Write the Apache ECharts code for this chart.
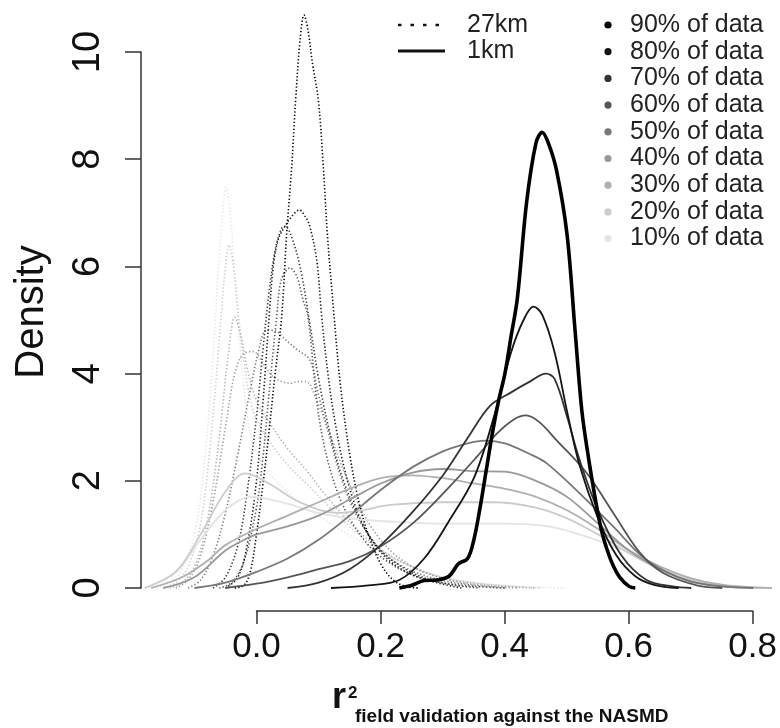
<!DOCTYPE html>
<html><head><meta charset="utf-8">
<script src="https://cdn.jsdelivr.net/npm/echarts@6/dist/echarts.min.js"></script>
<style>html,body{margin:0;padding:0;background:#fff}#c{width:780px;height:728px}</style>
</head><body><div id="c"></div>
<script>
// ---------- data ----------
const percentLabels = ['90% of data','80% of data','70% of data','60% of data','50% of data','40% of data','30% of data','20% of data','10% of data'];
const resolutionLabels = ['27km', '1km'];
const xTickInterval = 0.2;
const yTickInterval = 2;

// 27 km (dotted) density curves: [r2, density]
const km27_90 = [[-0.035,0],[-0.02,0.05],[-0.01,0.3],[0.0,1.0],[0.01,1.9],[0.02,2.9],[0.03,4.0],[0.0405,5.06],[0.0486,6.62],[0.0567,7.86],[0.063,9.1],[0.07,10.2],[0.0765,10.69],[0.083,10.4],[0.09,9.8],[0.0996,9.1],[0.1076,7.86],[0.114,6.62],[0.125,5.06],[0.135,3.8],[0.15,2.5],[0.165,1.6],[0.18,1.0],[0.2,0.45],[0.22,0.15],[0.24,0.03],[0.26,0]];
const km27_80 = [[-0.05,0],[-0.03,0.2],[-0.015,0.8],[0.0,2.0],[0.01,3.4],[0.02,5.0],[0.027,6.0],[0.035,6.5],[0.046,6.75],[0.058,6.95],[0.069,7.05],[0.08,6.9],[0.086,6.74],[0.097,6.12],[0.105,5.06],[0.115,4.0],[0.125,3.2],[0.14,2.3],[0.16,1.5],[0.18,1.0],[0.21,0.55],[0.25,0.25],[0.29,0.1],[0.33,0]];
const km27_70 = [[-0.07,0],[-0.05,0.2],[-0.03,0.8],[-0.015,1.8],[0.0,3.2],[0.01,4.4],[0.02,5.5],[0.03,6.3],[0.04,6.7],[0.046,6.75],[0.055,6.6],[0.07,6.0],[0.085,5.0],[0.1,3.9],[0.12,2.8],[0.14,2.0],[0.17,1.2],[0.2,0.7],[0.24,0.35],[0.28,0.15],[0.32,0.05],[0.36,0]];
const km27_60 = [[-0.06,0],[-0.04,0.1],[-0.02,0.5],[0.0,1.5],[0.01,2.4],[0.02,3.6],[0.0325,5.06],[0.04,5.75],[0.054,5.97],[0.065,5.81],[0.075,5.37],[0.083,5.06],[0.097,3.5],[0.11,2.6],[0.13,1.8],[0.15,1.3],[0.18,0.8],[0.21,0.5],[0.25,0.25],[0.3,0.1],[0.35,0.03],[0.4,0]];
const km27_50 = [[-0.11,0],[-0.09,0.15],[-0.07,0.6],[-0.05,1.4],[-0.03,2.5],[-0.01,3.7],[0.005,4.5],[0.016,4.81],[0.03,4.8],[0.045,4.65],[0.065,4.45],[0.086,4.25],[0.1,3.6],[0.118,2.8],[0.135,2.1],[0.155,1.5],[0.18,1.0],[0.21,0.6],[0.25,0.32],[0.3,0.14],[0.35,0.05],[0.4,0]];
const km27_40 = [[-0.13,0],[-0.11,0.15],[-0.09,0.6],[-0.07,1.6],[-0.05,3.0],[-0.035,4.0],[-0.02,4.38],[-0.005,4.41],[0.01,4.2],[0.027,3.94],[0.054,3.82],[0.067,3.85],[0.08,3.85],[0.097,3.5],[0.118,2.88],[0.14,2.2],[0.165,1.55],[0.19,1.05],[0.22,0.65],[0.26,0.35],[0.31,0.15],[0.36,0.05],[0.42,0]];
const km27_30 = [[-0.14,0],[-0.12,0.1],[-0.1,0.4],[-0.08,1.2],[-0.06,2.8],[-0.045,4.4],[-0.035,5.05],[-0.025,4.7],[-0.015,4.1],[0.0,3.5],[0.02,3.1],[0.05,2.6],[0.08,2.2],[0.11,1.75],[0.14,1.35],[0.17,1.0],[0.2,0.72],[0.24,0.45],[0.28,0.25],[0.33,0.12],[0.39,0.04],[0.45,0]];
const km27_20 = [[-0.15,0],[-0.13,0.1],[-0.11,0.4],[-0.09,1.2],[-0.075,2.6],[-0.06,4.6],[-0.05,6.0],[-0.044,6.4],[-0.037,6.0],[-0.03,5.2],[-0.02,4.2],[-0.005,3.3],[0.02,2.75],[0.05,2.3],[0.08,1.95],[0.11,1.6],[0.14,1.25],[0.17,0.95],[0.2,0.7],[0.24,0.45],[0.28,0.27],[0.33,0.13],[0.39,0.05],[0.46,0]];
const km27_10 = [[-0.16,0],[-0.14,0.1],[-0.12,0.35],[-0.1,1.0],[-0.085,2.2],[-0.072,4.0],[-0.06,6.2],[-0.053,7.2],[-0.049,7.47],[-0.044,7.2],[-0.037,6.2],[-0.03,5.0],[-0.02,3.7],[-0.008,2.8],[0.01,2.3],[0.04,1.9],[0.07,1.6],[0.1,1.35],[0.14,1.05],[0.18,0.8],[0.22,0.55],[0.26,0.35],[0.3,0.2],[0.36,0.09],[0.42,0.03],[0.5,0]];

// 1 km (solid) density curves
const km1_90 = [[0.23,0],[0.25,0.05],[0.27,0.14],[0.29,0.15],[0.31,0.22],[0.325,0.45],[0.34,0.55],[0.35,0.9],[0.36,1.5],[0.37,2.2],[0.38,2.9],[0.39,3.5],[0.40,4.0],[0.41,4.7],[0.42,5.4],[0.435,7.2],[0.45,8.3],[0.46,8.5],[0.47,8.3],[0.483,7.8],[0.50,6.6],[0.513,4.8],[0.524,3.3],[0.535,2.4],[0.545,1.7],[0.555,1.1],[0.565,0.7],[0.575,0.4],[0.585,0.2],[0.60,0.03],[0.61,0]];
const km1_80 = [[0.12,0],[0.18,0.05],[0.23,0.15],[0.27,0.55],[0.31,1.25],[0.35,2.05],[0.38,3.1],[0.41,4.4],[0.43,5.0],[0.446,5.25],[0.46,5.1],[0.48,4.4],[0.50,3.3],[0.52,2.3],[0.55,1.3],[0.58,0.6],[0.61,0.22],[0.64,0.06],[0.68,0]];
const km1_70 = [[0.05,0],[0.1,0.1],[0.15,0.35],[0.2,0.8],[0.25,1.4],[0.3,2.1],[0.34,2.8],[0.376,3.4],[0.41,3.65],[0.44,3.85],[0.466,4.0],[0.48,3.9],[0.5,3.2],[0.52,2.4],[0.55,1.45],[0.588,0.6],[0.628,0.15],[0.67,0.03],[0.7,0]];
const km1_60 = [[-0.05,0],[0.0,0.08],[0.05,0.2],[0.1,0.35],[0.15,0.5],[0.199,0.77],[0.252,1.21],[0.306,1.83],[0.355,2.45],[0.387,2.88],[0.415,3.15],[0.434,3.22],[0.455,3.1],[0.483,2.76],[0.532,2.14],[0.575,1.39],[0.618,0.65],[0.655,0.28],[0.709,0.05],[0.75,0]];
const km1_50 = [[-0.1,0],[-0.05,0.1],[0.0,0.3],[0.05,0.55],[0.1,0.9],[0.15,1.35],[0.2,1.83],[0.252,2.26],[0.3,2.55],[0.34,2.7],[0.368,2.75],[0.4,2.7],[0.44,2.5],[0.467,2.33],[0.52,1.77],[0.575,1.14],[0.62,0.6],[0.66,0.3],[0.7,0.12],[0.75,0.03],[0.8,0]];
const km1_40 = [[-0.15,0],[-0.1,0.2],[-0.05,0.7],[-0.02,0.9],[0.0,1.0],[0.05,1.15],[0.1,1.35],[0.15,1.65],[0.2,1.95],[0.25,2.15],[0.3,2.22],[0.35,2.18],[0.4,2.17],[0.45,2.0],[0.5,1.7],[0.55,1.2],[0.6,0.7],[0.65,0.35],[0.7,0.12],[0.75,0.03],[0.8,0]];
const km1_30 = [[-0.17,0],[-0.12,0.2],[-0.08,0.5],[-0.05,0.8],[0.0,1.1],[0.05,1.35],[0.1,1.6],[0.15,1.85],[0.2,2.05],[0.25,2.1],[0.3,2.05],[0.35,1.95],[0.4,1.85],[0.45,1.7],[0.5,1.45],[0.55,1.1],[0.6,0.7],[0.65,0.4],[0.7,0.18],[0.75,0.06],[0.8,0.01],[0.83,0]];
const km1_20 = [[-0.18,0],[-0.13,0.3],[-0.09,1.0],[-0.05,1.8],[-0.018,2.14],[0.02,1.95],[0.07,1.6],[0.129,1.4],[0.17,1.45],[0.215,1.55],[0.3,1.6],[0.38,1.6],[0.45,1.5],[0.5,1.3],[0.55,1.0],[0.6,0.65],[0.65,0.35],[0.7,0.15],[0.76,0.04],[0.82,0]];
const km1_10 = [[-0.18,0],[-0.13,0.3],[-0.09,0.9],[-0.05,1.45],[-0.008,1.7],[0.04,1.6],[0.1,1.4],[0.15,1.3],[0.2,1.25],[0.3,1.2],[0.4,1.2],[0.47,1.15],[0.52,1.0],[0.57,0.8],[0.62,0.55],[0.67,0.3],[0.72,0.12],[0.78,0.03],[0.83,0]];

const km27Curves = [km27_90, km27_80, km27_70, km27_60, km27_50, km27_40, km27_30, km27_20, km27_10];
const km1Curves  = [km1_90, km1_80, km1_70, km1_60, km1_50, km1_40, km1_30, km1_20, km1_10];

// ---------- styles / layout ----------
const grays = ['#000000','#141414','#333333','#555555','#777777','#999999','#b0b0b0','#cccccc','#e4e4e4'];
const FONT = 'Liberation Sans, Arial, Helvetica, sans-serif';
const X0PX = 256.5, XSCALE = 621;   // pixel of r2=0, pixels per unit
const Y0PX = 588, YSCALE = 53.6;    // pixel of density=0, pixels per unit
const plotLeft = 141, plotRight = 778, plotTop = 0, plotBottom = 611;
const xMin = (plotLeft - X0PX) / XSCALE, xMax = (plotRight - X0PX) / XSCALE;
const yMax = (Y0PX - plotTop) / YSCALE, yMin = (Y0PX - plotBottom) / YSCALE;
const xAxisLeft = X0PX, xAxisRight = X0PX + 0.8 * XSCALE;
const yAxisTop = Y0PX - 10 * YSCALE, yAxisBottom = Y0PX;

const series = [];
for (let i = percentLabels.length - 1; i >= 0; i--) {
  series.push({
    type: 'line', name: percentLabels[i] + ' 27km', data: km27Curves[i],
    xAxisIndex: 0, yAxisIndex: 0, symbol: 'none', smooth: 0.35, silent: true,
    lineStyle: { color: grays[i], width: 1.6, type: [1.3, 2.2] }, z: 2
  });
}
for (let i = percentLabels.length - 1; i >= 0; i--) {
  series.push({
    type: 'line', name: percentLabels[i] + ' 1km', data: km1Curves[i],
    xAxisIndex: 0, yAxisIndex: 0, symbol: 'none', smooth: 0.35, silent: true,
    lineStyle: { color: grays[i], width: i === 0 ? 3.6 : 1.8 }, z: 3
  });
}

const graphic = [];
// line-type legend
graphic.push({ type: 'line', shape: { x1: 398, y1: 25, x2: 441, y2: 25 }, style: { stroke: '#111', lineWidth: 2.5, lineDash: [3.5, 9] } });
graphic.push({ type: 'line', shape: { x1: 398, y1: 51, x2: 445, y2: 51 }, style: { stroke: '#111', lineWidth: 3 } });
resolutionLabels.forEach((t, k) => {
  graphic.push({ type: 'text', x: 467, y: 25 + k * 26.5, style: { text: t, font: '25px ' + FONT, fill: '#222', verticalAlign: 'middle', align: 'left' } });
});
// percentage legend
percentLabels.forEach((t, k) => {
  const cy = 25 + k * 26.7;
  graphic.push({ type: 'circle', shape: { cx: 608, cy: cy, r: 3.6 }, style: { fill: grays[k] } });
  graphic.push({ type: 'text', x: 630, y: cy, style: { text: t, font: '25px ' + FONT, fill: '#222', verticalAlign: 'middle', align: 'left' } });
});
// axis titles
graphic.push({ type: 'text', x: 32, y: 312, rotation: Math.PI / 2, style: { text: 'Density', font: '40px ' + FONT, fill: '#111', align: 'center', verticalAlign: 'middle' } });
graphic.push({ type: 'text', x: 332, y: 698, style: { text: 'r', font: 'bold 36px ' + FONT, fill: '#111', align: 'left', verticalAlign: 'middle' } });
graphic.push({ type: 'text', x: 348, y: 693, style: { text: '2', font: 'bold 17px ' + FONT, fill: '#111', align: 'left', verticalAlign: 'middle' } });
graphic.push({ type: 'text', x: 355, y: 717, style: { text: 'field validation against the NASMD', font: 'bold 19px ' + FONT, fill: '#111', align: 'left', verticalAlign: 'middle' } });

const axisColor = '#333';
const option = {
  animation: false,
  backgroundColor: '#fff',
  grid: [
    { left: plotLeft, top: plotTop, width: plotRight - plotLeft, height: plotBottom - plotTop, containLabel: false },
    { left: xAxisLeft, top: plotBottom - 1, width: xAxisRight - xAxisLeft, height: 1 },
    { left: plotLeft, top: yAxisTop, width: 1, height: yAxisBottom - yAxisTop }
  ],
  xAxis: [
    { gridIndex: 0, type: 'value', min: xMin, max: xMax, show: false },
    { gridIndex: 1, type: 'value', min: 0, max: 0.8, interval: xTickInterval, position: 'bottom',
      axisLine: { show: true, lineStyle: { color: axisColor, width: 1.5 } },
      axisTick: { show: true, length: 13, lineStyle: { color: axisColor, width: 1.5 } },
      axisLabel: { fontSize: 35, fontFamily: FONT, color: '#111', margin: 19, formatter: v => v.toFixed(1) },
      splitLine: { show: false } },
    { gridIndex: 2, type: 'value', min: 0, max: 1, show: false }
  ],
  yAxis: [
    { gridIndex: 0, type: 'value', min: yMin, max: yMax, show: false },
    { gridIndex: 1, type: 'value', min: 0, max: 1, show: false },
    { gridIndex: 2, type: 'value', min: 0, max: 10, interval: yTickInterval, position: 'left',
      axisLine: { show: true, lineStyle: { color: axisColor, width: 1.5 } },
      axisTick: { show: true, length: 16, lineStyle: { color: axisColor, width: 1.5 } },
      axisLabel: { fontSize: 38, fontFamily: FONT, color: '#111', margin: 33, rotate: 90 },
      splitLine: { show: false } }
  ],
  series: series,
  graphic: graphic
};
const chart = echarts.init(document.getElementById('c'), null, { renderer: 'canvas' });
chart.setOption(option);
</script>
</body></html>
